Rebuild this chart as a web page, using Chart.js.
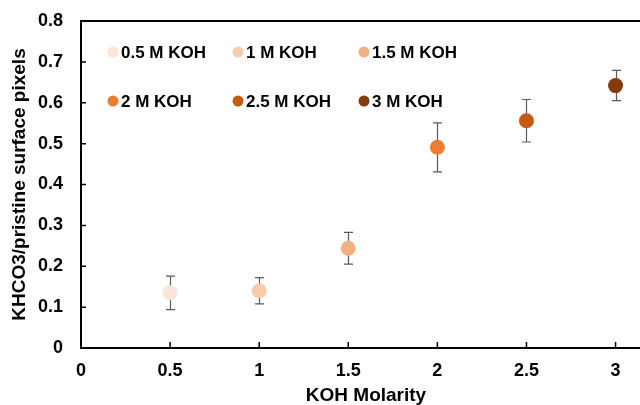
<!DOCTYPE html>
<html>
<head>
<meta charset="utf-8">
<script src="https://cdn.jsdelivr.net/npm/chart.js@4"></script>
<style>
  html, body { margin: 0; padding: 0; background: #fff; overflow: hidden; width: 640px; height: 405px; }
  #wrap { width: 648px; height: 405px; }
</style>
</head>
<body>
<div id="wrap"><canvas id="KohChart"></canvas></div>
<script>
const KohLabels = ['0.5 M KOH', '1 M KOH', '1.5 M KOH', '2 M KOH', '2.5 M KOH', '3 M KOH'];
const KohMolarity = [0.5, 1, 1.5, 2, 2.5, 3];
const PixelRatio = [0.135, 0.140, 0.244, 0.491, 0.556, 0.642];
const RatioError = [0.041, 0.032, 0.039, 0.060, 0.052, 0.037];
const xTickValues = [0, 0.5, 1, 1.5, 2, 2.5, 3];
const yTickValues = [0, 0.1, 0.2, 0.3, 0.4, 0.5, 0.6, 0.7, 0.8];

const COLORS = ['#FBE5D6', '#F8CBAD', '#F4B183', '#ED7D31', '#C55A11', '#843C0C'];
const FONT = 'Arial, "Liberation Sans", sans-serif';

function GetDatasets()
{
    var sets = [];
    for (let i = 0; i < KohLabels.length; i++)
    {
        sets.push({
            label: KohLabels[i],
            data: [{ x: KohMolarity[i], y: PixelRatio[i], err: RatioError[i] }],
            backgroundColor: COLORS[i],
            borderColor: COLORS[i],
            pointRadius: 7.5,
            pointHoverRadius: 7.5,
            borderWidth: 0
        });
    }
    return sets;
}

// error bars, drawn under the points
const ErrorBars = {
    id: 'errorBars',
    beforeDatasetsDraw(chart) {
        const ctx = chart.ctx;
        const xs = chart.scales.x, ys = chart.scales.y;
        ctx.save();
        ctx.strokeStyle = '#595959';
        ctx.lineWidth = 1.2;
        chart.data.datasets.forEach(ds => {
            ds.data.forEach(p => {
                const px = Math.round(xs.getPixelForValue(p.x)) + 0.5;
                const top = ys.getPixelForValue(p.y + p.err);
                const bot = ys.getPixelForValue(p.y - p.err);
                ctx.beginPath();
                ctx.moveTo(px, top); ctx.lineTo(px, bot);
                ctx.moveTo(px - 4.5, top); ctx.lineTo(px + 4.5, top);
                ctx.moveTo(px - 4.5, bot); ctx.lineTo(px + 4.5, bot);
                ctx.stroke();
            });
        });
        ctx.restore();
    }
};

// inside tick marks, top border, axis titles, legend
const Decorations = {
    id: 'decorations',
    afterDraw(chart) {
        const ctx = chart.ctx;
        const area = chart.chartArea;
        const xs = chart.scales.x, ys = chart.scales.y;
        ctx.save();
        ctx.strokeStyle = '#000';
        ctx.lineWidth = 2;
        ctx.beginPath();
        ctx.moveTo(area.left - 1, area.top);
        ctx.lineTo(chart.width, area.top);
        ctx.stroke();

        ctx.lineWidth = 1.5;
        ctx.beginPath();
        yTickValues.forEach(v => {
            if (v === 0 || v === 0.8) return;
            const py = ys.getPixelForValue(v);
            ctx.moveTo(area.left, py); ctx.lineTo(area.left + 5, py);
        });
        xTickValues.forEach(v => {
            if (v === 0) return;
            const px = xs.getPixelForValue(v);
            ctx.moveTo(px, area.bottom); ctx.lineTo(px, area.bottom - 6);
        });
        ctx.stroke();

        // axis titles
        ctx.fillStyle = '#000';
        ctx.font = 'bold 19px ' + FONT;
        ctx.textAlign = 'center';
        ctx.textBaseline = 'middle';
        ctx.fillText('KOH Molarity', 366, 396);
        ctx.save();
        ctx.translate(20, (area.top + area.bottom) / 2);
        ctx.rotate(-Math.PI / 2);
        ctx.fillText('KHCO3/pristine surface pixels', 0, 0);
        ctx.restore();

        // legend, 3 per row
        ctx.font = 'bold 17px ' + FONT;
        ctx.textAlign = 'left';
        const colX = [113, 238, 364];
        const rowY = [52, 101];
        chart.data.datasets.forEach((ds, i) => {
            const cx = colX[i % 3], cy = rowY[Math.floor(i / 3)];
            ctx.fillStyle = ds.backgroundColor;
            ctx.beginPath();
            ctx.arc(cx, cy, 5.5, 0, Math.PI * 2);
            ctx.fill();
            ctx.fillStyle = '#000';
            ctx.fillText(ds.label, cx + 8, cy + 1);
        });
        ctx.restore();
    }
};

new Chart(document.getElementById('KohChart'), {
    type: 'scatter',
    data: { datasets: GetDatasets() },
    options: {
        responsive: true,
        maintainAspectRatio: false,
        animation: false,
        layout: { padding: { top: 21, right: 0, left: 0, bottom: 0 } },
        plugins: {
            legend: { display: false },
            tooltip: { enabled: false }
        },
        scales: {
            x: {
                type: 'linear',
                min: 0,
                max: 3.14,
                afterBuildTicks: (scale) => { scale.ticks = xTickValues.map(v => ({ value: v })); },
                afterFit: (scale) => { scale.height = 57; scale.paddingRight = 0; scale.paddingLeft = 0; },
                grid: { display: true, drawOnChartArea: false, drawTicks: false },
                border: { color: '#000', width: 2 },
                ticks: {
                    padding: 12,
                    color: '#000',
                    font: { family: FONT, size: 18, weight: 'bold' },
                    callback: (v) => String(v)
                }
            },
            y: {
                type: 'linear',
                min: 0,
                max: 0.8,
                afterBuildTicks: (scale) => { scale.ticks = yTickValues.map(v => ({ value: v })); },
                afterFit: (scale) => { scale.width = 81; scale.paddingTop = 0; scale.paddingBottom = 0; },
                grid: { display: true, drawOnChartArea: false, drawTicks: false },
                border: { color: '#000', width: 2 },
                ticks: {
                    padding: 18,
                    color: '#000',
                    font: { family: FONT, size: 18, weight: 'bold' },
                    callback: (v) => String(Math.round(v * 10) / 10)
                }
            }
        }
    },
    plugins: [ErrorBars, Decorations]
});
</script>
</body>
</html>
